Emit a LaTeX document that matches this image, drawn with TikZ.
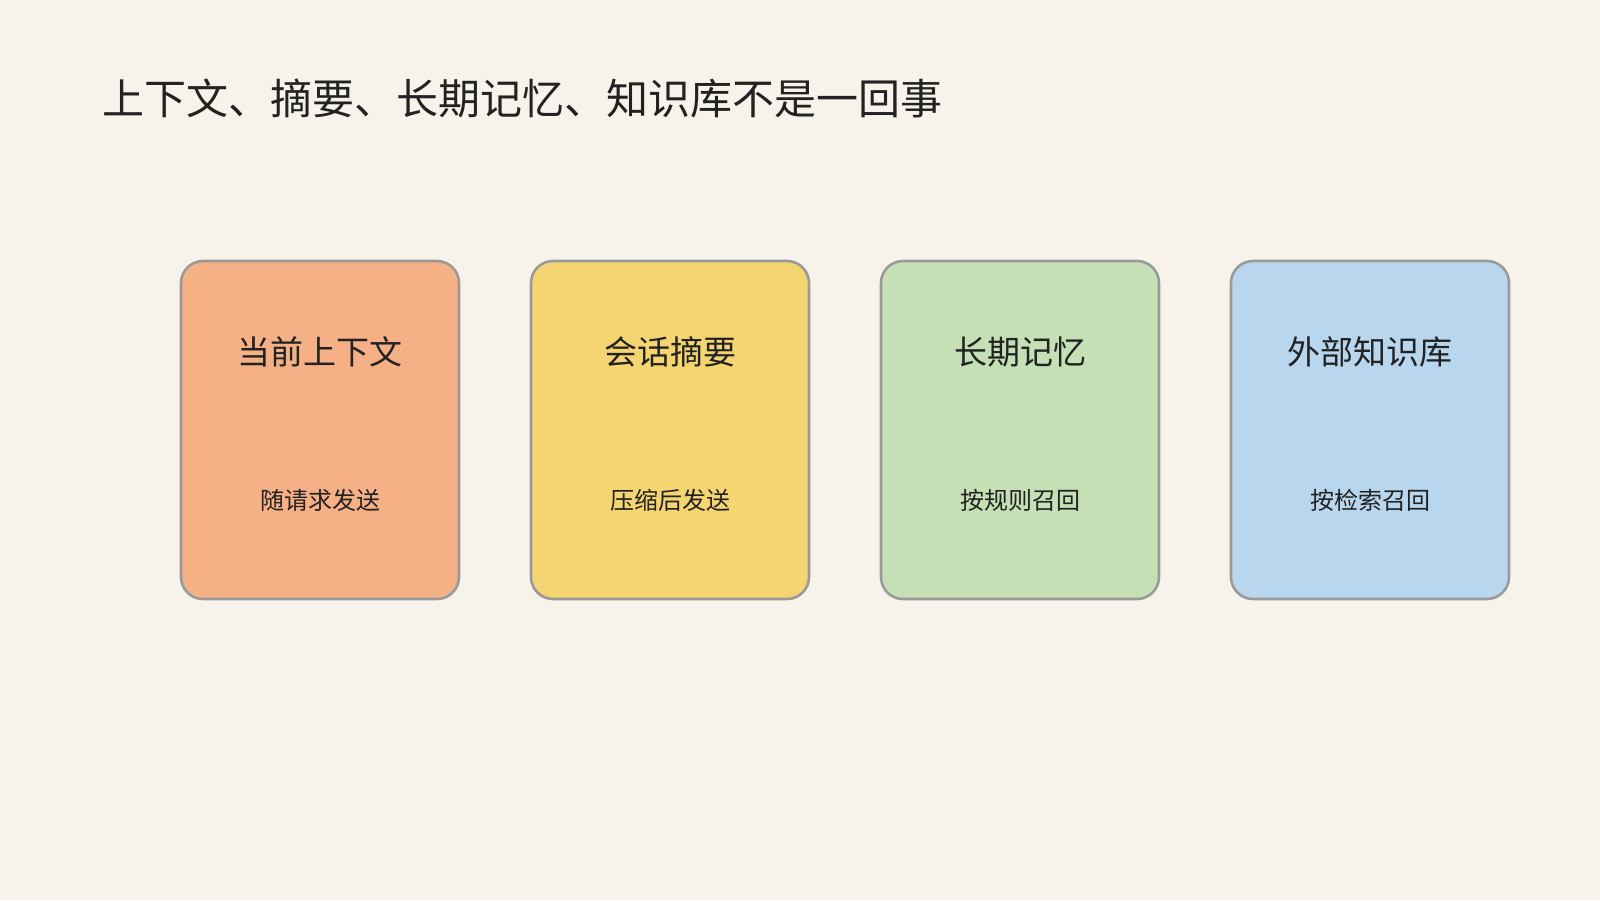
\documentclass[tikz,border=0pt]{standalone}
\usepackage{fontspec}
\setmainfont{Noto Sans CJK SC}
\usepackage{tikz}
\definecolor{paper}{HTML}{F7F3EA}
\definecolor{ink}{HTML}{222222}
\definecolor{rim}{HTML}{9A9A9A}
\definecolor{peach}{HTML}{F5B185}
\definecolor{butter}{HTML}{F5D572}
\definecolor{sage}{HTML}{C5E0B5}
\definecolor{sky}{HTML}{B8D7EE}
\tikzset{
  card/.style={draw=rim,line width=1.3pt,rounded corners=11pt,minimum width=139pt,minimum height=169pt},
  cardhead/.style={text=ink,font=\fontsize{16.5pt}{20pt}\selectfont},
  cardnote/.style={text=ink,font=\fontsize{12pt}{14pt}\selectfont}
}

\begin{document}
\begin{tikzpicture}[x=0.5pt,y=-0.5pt]
			\useasboundingbox[fill=paper] (0,0) rectangle (1600,900);
			\node[text=ink,font=\fontsize{21pt}{25pt}\selectfont,anchor=west,inner sep=0pt] (title) at (102,98) {上下文、摘要、长期记忆、知识库不是一回事};
			\begin{scope}
				\node[card,fill=peach] (context) at (320,430) {};
				\node[card,fill=butter] (summary) at (670,430) {};
				\node[card,fill=sage] (memory) at (1020,430) {};
				\node[card,fill=sky] (knowledge) at (1370,430) {};
			\end{scope}
			\node[cardhead] (contexthead) at (320,352) {当前上下文};
			\node[cardhead] (summaryhead) at (670,352) {会话摘要};
			\node[cardhead] (memoryhead) at (1020,352) {长期记忆};
			\node[cardhead] (knowledgehead) at (1370,352) {外部知识库};
			\node[cardnote] (contextnote) at (320,500) {随请求发送};
			\node[cardnote] (summarynote) at (670,500) {压缩后发送};
			\node[cardnote] (memorynote) at (1020,500) {按规则召回};
			\node[cardnote] (knowledgenote) at (1370,500) {按检索召回};
		\end{tikzpicture}
\end{document}
